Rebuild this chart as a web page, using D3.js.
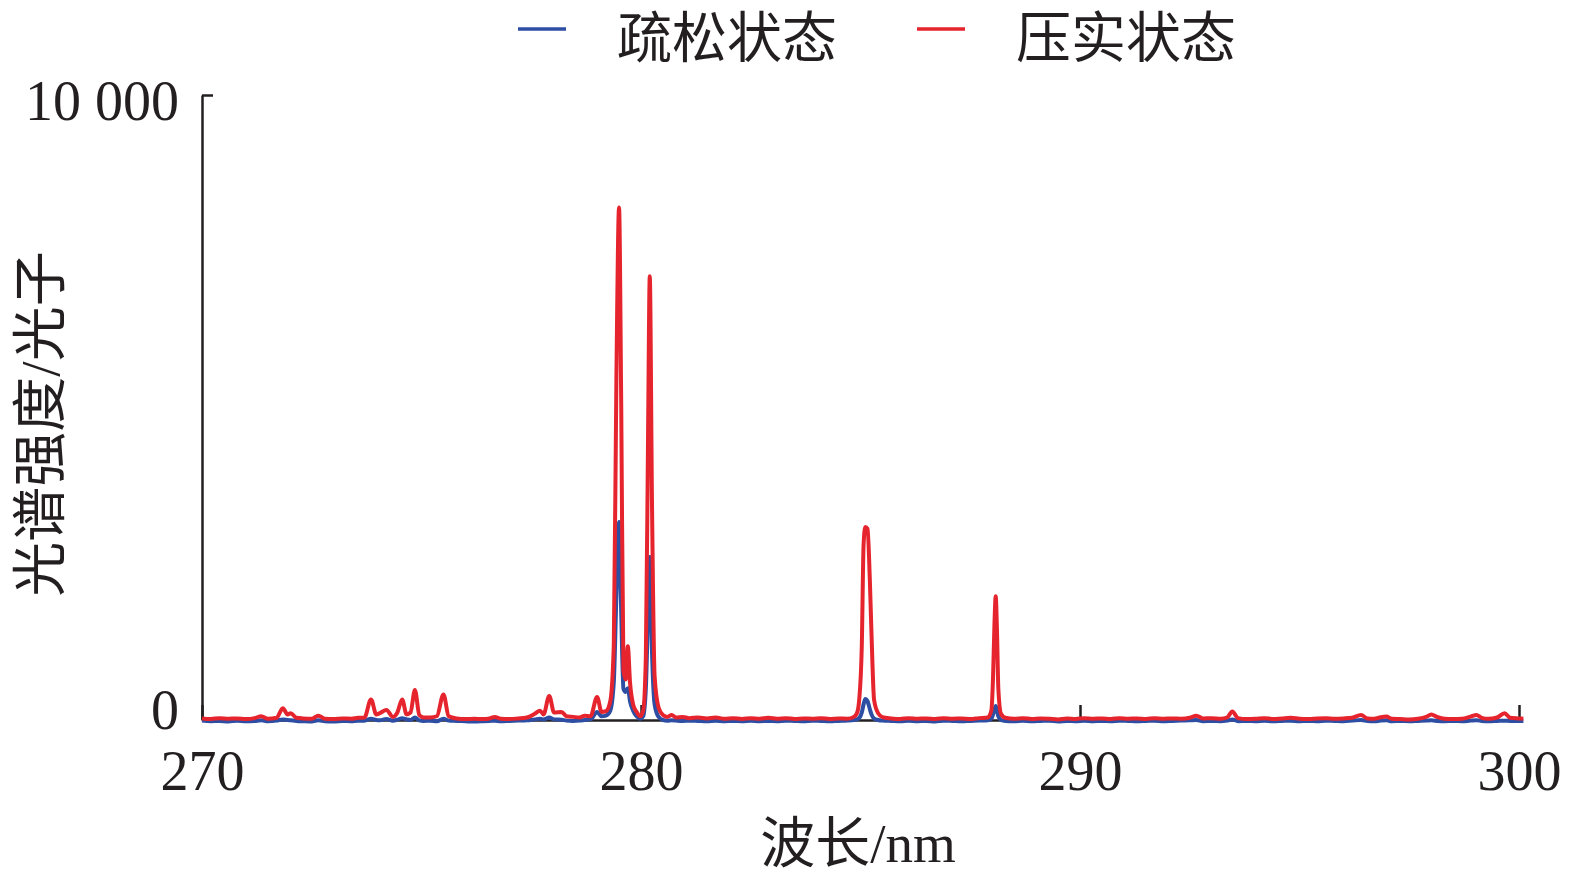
<!DOCTYPE html>
<html>
<head>
<meta charset="utf-8">
<script src="https://cdn.jsdelivr.net/npm/d3@7"></script>
<style>
body { margin: 0; background: #fff; }
</style>
</head>
<body>
<svg id="SpecSvg" width="1575" height="886"></svg>
<script>
// 波长 (nm), shared by both series
var waveLen = [
	270.0, 270.2, 270.4, 270.6, 270.8, 271.0, 271.2, 271.35, 271.5, 271.7,
	271.84, 271.95, 272.02, 272.15, 272.3, 272.5, 272.65, 272.8, 273.0, 273.2,
	273.4, 273.55, 273.7, 273.85, 273.97, 274.05, 274.2, 274.35, 274.45, 274.56,
	274.66, 274.75, 274.85, 274.95, 275.05, 275.2, 275.35, 275.5, 275.62, 275.8,
	276.0, 276.2, 276.4, 276.55, 276.67, 276.8, 277.0, 277.2, 277.4, 277.58,
	277.7, 277.78, 277.91, 278.02, 278.19, 278.3, 278.45, 278.6, 278.72, 278.85,
	279.0, 279.1, 279.2, 279.3, 279.38, 279.44, 279.5, 279.55, 279.6, 279.65,
	279.7, 279.75, 279.82, 279.9, 279.98, 280.05, 280.11, 280.16, 280.2, 280.25,
	280.31, 280.4, 280.5, 280.6, 280.7, 280.8, 280.95, 281.1, 281.3, 281.5,
	281.7, 281.9, 282.1, 282.3, 282.5, 282.7, 282.9, 283.1, 283.3, 283.5,
	283.7, 283.9, 284.1, 284.3, 284.5, 284.7, 284.85, 284.92, 284.97, 285.03,
	285.07, 285.11, 285.16, 285.21, 285.25, 285.31, 285.4, 285.5, 285.7, 285.9,
	286.1, 286.3, 286.5, 286.7, 286.9, 287.1, 287.3, 287.5, 287.7, 287.9,
	287.98, 288.02, 288.05, 288.08, 288.11, 288.14, 288.2, 288.3, 288.5, 288.7,
	288.9, 289.1, 289.3, 289.5, 289.7, 289.9, 290.1, 290.3, 290.5, 290.7,
	290.9, 291.1, 291.3, 291.5, 291.7, 291.9, 292.1, 292.3, 292.5, 292.65,
	292.8, 293.0, 293.2, 293.35, 293.47, 293.6, 293.8, 294.0, 294.2, 294.4,
	294.6, 294.8, 295.0, 295.2, 295.4, 295.6, 295.8, 296.0, 296.2, 296.4,
	296.55, 296.7, 296.85, 296.98, 297.1, 297.3, 297.5, 297.7, 297.9, 298.0,
	298.15, 298.3, 298.5, 298.7, 298.9, 299.03, 299.15, 299.3, 299.5, 299.67,
	299.8, 300.0, 300.1
]
// 压实状态 (red)
var denseVal = [
	25, 15, 30, 20, 25, 15, 30, 60, 20, 35,
	190, 90, 110, 35, 25, 20, 70, 20, 15, 25,
	20, 35, 40, 330, 90, 110, 160, 50, 120, 330,
	90, 120, 480, 80, 40, 40, 60, 410, 60, 25,
	15, 20, 15, 25, 50, 20, 15, 25, 40, 100,
	150, 90, 385, 120, 130, 60, 50, 40, 70, 60,
	370, 130, 140, 300, 1200, 5500, 8200, 5000, 800, 650,
	1180, 600, 250, 130, 60, 150, 1000, 4500, 7100, 3500,
	700, 200, 80, 50, 80, 40, 50, 30, 40, 25,
	40, 20, 30, 15, 30, 20, 35, 20, 30, 15,
	25, 20, 30, 15, 25, 20, 50, 110, 320, 1200,
	2800, 3090, 3060, 2300, 1390, 320, 110, 45, 25, 15,
	30, 20, 25, 15, 30, 20, 25, 15, 30, 40,
	150, 700, 1500, 1980, 1400, 500, 100, 35, 20, 30,
	15, 25, 20, 10, 25, 15, 30, 20, 25, 15,
	30, 20, 25, 15, 30, 20, 25, 20, 35, 70,
	25, 30, 20, 40, 135, 30, 15, 20, 30, 15,
	25, 35, 20, 15, 25, 30, 20, 25, 35, 80,
	25, 20, 45, 55, 20, 15, 10, 20, 55, 90,
	45, 20, 15, 20, 55, 80, 35, 20, 40, 110,
	35, 25, 20
]
// 疏松状态 (blue)
var looseVal = [
	-10, -20, -15, -25, -10, -20, -15, -5, -20, -10,
	10, 0, -5, -15, -20, -25, -5, -20, -25, -15,
	-20, -10, -10, 20, 0, -5, 15, -10, 5, 30,
	10, 0, 40, -5, -15, -10, -20, 20, -10, -15,
	-20, -25, -20, -15, -10, -20, -15, -10, -5, 10,
	20, 10, 40, 10, 5, -10, -15, -10, 0, 10,
	130, 60, 70, 150, 600, 2000, 3170, 1700, 500, 450,
	510, 300, 150, 60, 20, 60, 500, 1700, 2610, 1100,
	250, 50, 0, -10, -5, -10, -15, -10, -15, -20,
	-10, -20, -15, -20, -10, -20, -15, -20, -10, -15,
	-20, -10, -15, -20, -15, -10, 0, 10, 30, 120,
	250, 336, 300, 180, 90, 20, 0, -10, -15, -20,
	-10, -20, -15, -25, -10, -15, -20, -15, -10, -5,
	20, 90, 160, 224, 150, 60, 0, -15, -20, -10,
	-20, -15, -10, -25, -15, -20, -10, -20, -15, -20,
	-10, -15, -20, -15, -10, -20, -15, -10, -5, 0,
	-20, -15, -20, -10, 10, -20, -15, -20, -10, -20,
	-15, -10, -20, -15, -20, -10, -15, -20, -10, 0,
	-15, -20, -10, -5, -20, -15, -20, -15, -10, -5,
	-15, -20, -15, -20, -10, -5, -15, -20, -15, -10,
	-15, -15, -15
]
var xTicks = [270, 280, 290, 300]
var yTicks = [0, 10000]
var legendText = ['疏松状态', '压实状态']
var lineColor = ['#2d4ea2', '#e6242d']

var SpecSvg = d3.select('#SpecSvg')
var fontFam = "'Liberation Serif', 'Times New Roman', 'Noto Sans CJK SC', serif"
var textColor = '#231f20'

var x = d3.scaleLinear().domain([270, 300]).range([202, 1519])
var y = d3.scaleLinear().domain([0, 10000]).range([720, 95])

var spaceFmt = d3.formatLocale({ decimal: '.', thousands: ' ', grouping: [3], currency: ['', ''] }).format(',')

// axes
var xAxisG = SpecSvg.append('g')
	.attr('transform', 'translate(0,' + y(0) + ')')
	.call(d3.axisBottom(x).tickValues(xTicks).tickSizeInner(-15).tickSizeOuter(0).tickPadding(30))
var yAxisG = SpecSvg.append('g')
	.attr('transform', 'translate(' + x(270) + ',0)')
	.call(d3.axisLeft(y).tickValues(yTicks).tickSizeInner(-11).tickSizeOuter(0).tickPadding(23).tickFormat(spaceFmt))

SpecSvg.selectAll('.domain, .tick line')
	.attr('stroke', textColor)
	.attr('stroke-width', 2.5)
SpecSvg.selectAll('.tick text')
	.attr('font-family', fontFam)
	.attr('font-size', '56px')
	.attr('fill', textColor)
yAxisG.selectAll('.tick text')
	.attr('dy', function (d) { return d == 0 ? '0.15em' : '0.44em' })

// spectra: blue first, red drawn on top
var line = d3.line()
	.x(function (d) { return x(d[0]) })
	.y(function (d) { return y(d[1]) })
	.curve(d3.curveMonotoneX)
var series = [looseVal, denseVal]
SpecSvg.selectAll('.specLine')
	.data(series)
	.join('path')
	.attr('class', 'specLine')
	.attr('fill', 'none')
	.attr('stroke', function (d, i) { return lineColor[i] })
	.attr('stroke-width', 4)
	.attr('stroke-linejoin', 'round')
	.attr('d', function (vals) {
		return line(waveLen.map(function (w, j) { return [w, vals[j]] }))
	})

// legend
var legendX = [518, 917]
SpecSvg.selectAll('.legLine')
	.data(lineColor)
	.join('line')
	.attr('class', 'legLine')
	.attr('x1', function (d, i) { return legendX[i] })
	.attr('x2', function (d, i) { return legendX[i] + 48 })
	.attr('y1', 29)
	.attr('y2', 29)
	.attr('stroke', function (d) { return d })
	.attr('stroke-width', 3.5)
SpecSvg.selectAll('.legText')
	.data(legendText)
	.join('text')
	.attr('class', 'legText')
	.attr('x', function (d, i) { return legendX[i] + 99 })
	.attr('y', 57)
	.attr('font-family', fontFam)
	.attr('font-size', '55px')
	.attr('fill', textColor)
	.text(function (d) { return d })

// axis titles
SpecSvg.append('text')
	.attr('x', 858)
	.attr('y', 862)
	.attr('text-anchor', 'middle')
	.attr('font-family', fontFam)
	.attr('font-size', '55px')
	.attr('fill', textColor)
	.text('波长/nm')
SpecSvg.append('text')
	.attr('transform', 'translate(59,424) rotate(-90)')
	.attr('text-anchor', 'middle')
	.attr('font-family', fontFam)
	.attr('font-size', '55px')
	.attr('fill', textColor)
	.text('光谱强度/光子')
</script>
</body>
</html>
